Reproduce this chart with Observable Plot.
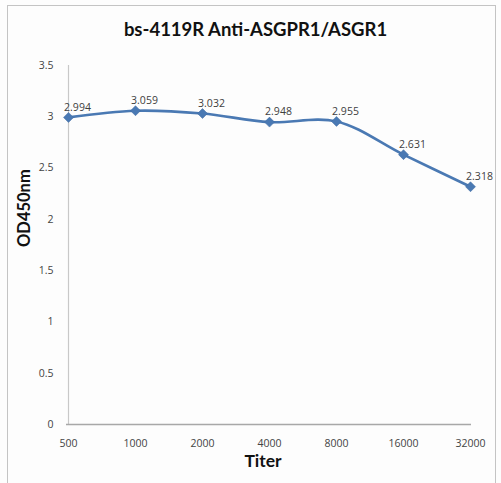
<!DOCTYPE html>
<html>
<head>
<meta charset="utf-8">
<script src="https://cdn.jsdelivr.net/npm/d3@7"></script>
<script src="https://cdn.jsdelivr.net/npm/@observablehq/plot@0.6"></script>
<style>
  html, body { margin: 0; padding: 0; background: #fff; }
  #wrap { position: relative; width: 501px; height: 483px; overflow: hidden; background: #fdfdfd; }
  #border { position: absolute; left: 7px; top: 5px; width: 489px; height: 490px; border: 1.5px solid #c4c4c4; box-sizing: border-box; }
  #title { position: absolute; left: 0; top: 18px; width: 511px; text-align: center; font-family: Lato, "Open Sans", sans-serif; font-weight: bold; font-size: 18.5px; color: #111; }
  #chart { position: absolute; left: 0; top: 50px; }
</style>
</head>
<body>
<div id="wrap">
  <div id="border"></div>
  <div id="title">bs-4119R Anti-ASGPR1/ASGR1</div>
  <div id="chart"></div>
</div>
<script>
const titers = ["500", "1000", "2000", "4000", "8000", "16000", "32000"];
const od450 = [2.994, 3.059, 3.032, 2.948, 2.955, 2.631, 2.318];
const yTicks = [0, 0.5, 1, 1.5, 2, 2.5, 3, 3.5];
const xLabel = "Titer";
const yLabel = "OD450nm";

const data = titers.map((t, i) => ({titer: t, od: od450[i]}));

const chart = Plot.plot({
  width: 501,
  height: 433,
  marginLeft: 66,
  marginRight: 30,
  marginTop: 15,
  marginBottom: 59,
  style: {background: "transparent", fontFamily: "'Open Sans', sans-serif"},
  x: {type: "point", domain: titers, padding: 0, axis: null},
  y: {domain: [0, 3.5], axis: null},
  marks: [
    Plot.ruleX([titers[0]], {x: d => d, y1: 0, y2: 3.5, stroke: "#c8c8c8", strokeWidth: 1.2}),
    Plot.ruleY([0], {stroke: "#a8a8a8", strokeWidth: 1.5}),
    Plot.axisY({ticks: yTicks, tickSize: 0, tickPadding: 13, tickFormat: d => String(d), fontSize: 10.5, fill: "#444", label: null}),
    Plot.axisX({tickSize: 0, tickPadding: 15, fontSize: 10.5, fill: "#444", label: null}),
    Plot.line(data, {x: "titer", y: "od", curve: "catmull-rom", stroke: "#4a79b3", strokeWidth: 2.6}),
    Plot.dot(data, {x: "titer", y: "od", symbol: "diamond2", r: 4.5, fill: "#4a79b3", stroke: "#3f6aa0", strokeWidth: 0.5}),
    Plot.text(data, {x: "titer", y: "od", text: d => d.od.toFixed(3), dx: 9, dy: -10, fontSize: 10.5, fill: "#404040", fontFamily: "'Open Sans', sans-serif"}),
    Plot.text([xLabel], {frameAnchor: "bottom", text: d => d, dy: 42, dx: -6, fontSize: 17.5, fontWeight: "bold", fill: "#111", fontFamily: "Lato, 'Open Sans', sans-serif"}),
    Plot.text([yLabel], {frameAnchor: "left", text: d => d, dx: -42, dy: 2, rotate: -90, fontSize: 16.5, fontWeight: "bold", fill: "#111", fontFamily: "Lato, 'Open Sans', sans-serif"})
  ]
});
document.getElementById("chart").appendChild(chart);
</script>
</body>
</html>
